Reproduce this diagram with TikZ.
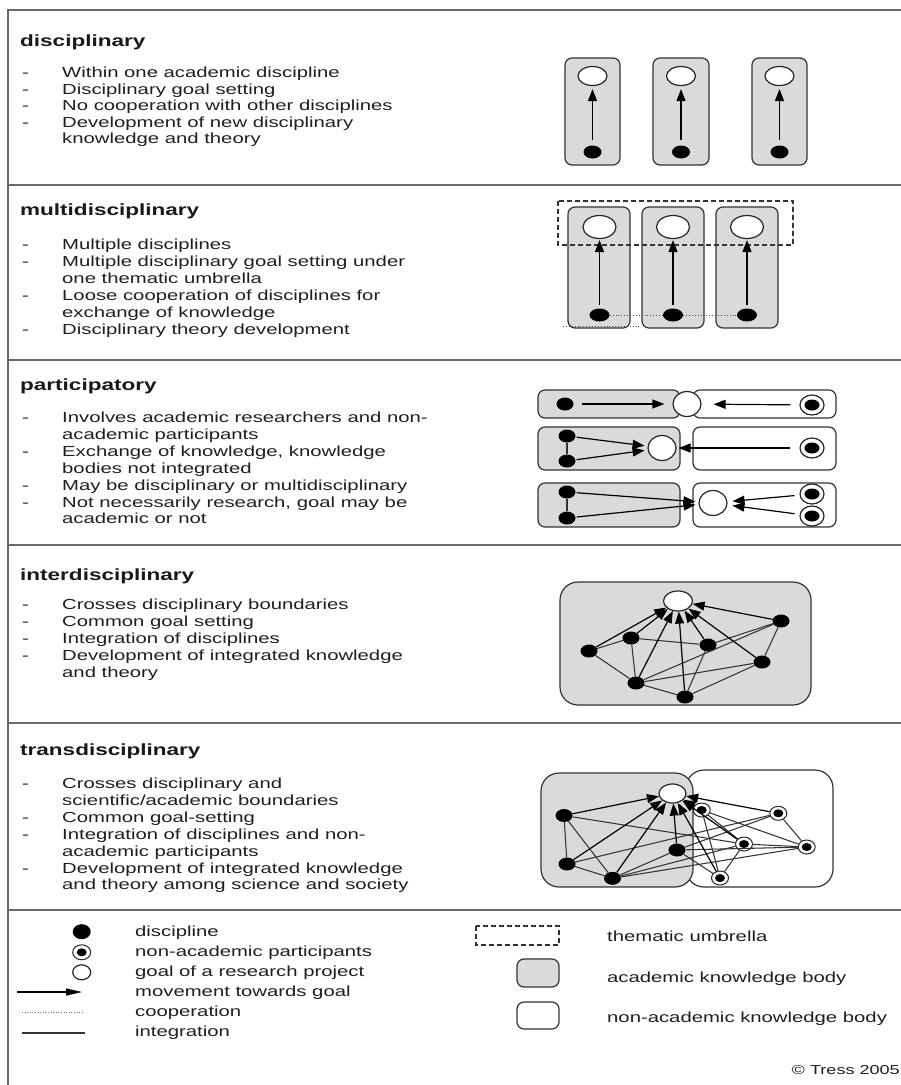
\documentclass[tikz,border=0pt]{standalone}
\usepackage{fontspec}
\setmainfont{Liberation Sans}[FakeStretch=1.39]
\usetikzlibrary{shapes.geometric,arrows.meta}
\definecolor{kgray}{RGB}{218,218,218}
\definecolor{framec}{RGB}{105,105,105}
\begin{document}
\begin{tikzpicture}[x=1pt,y=-1pt,
  body/.style={font=\fontsize{14.6}{16.9}\selectfont, anchor=base west, inner sep=0pt, text=black!88},
  ttl/.style={font=\fontsize{16.2}{18}\selectfont\bfseries, anchor=base west, inner sep=0pt, text=black!90},
  frame/.style={draw=framec, line width=1.5pt},
  acad/.style={draw=black!80, fill=kgray, rounded corners=7pt, line width=1.2pt},
  nonacad/.style={draw=black!80, fill=white, rounded corners=7pt, line width=1.2pt},
  bigacad/.style={draw=black!80, fill=kgray, rounded corners=18pt, line width=1.2pt},
  bignon/.style={draw=black!80, fill=white, rounded corners=18pt, line width=1.2pt},
  umbrella/.style={draw=black!80, dash pattern=on 5pt off 3pt, line width=1.2pt},
  goal/.style={ellipse, draw=black!85, fill=white, line width=1.2pt, inner sep=0pt, minimum width=#1},
  goal/.default=29pt,
  disc/.style={ellipse, fill=black, inner sep=0pt, minimum width=17pt, minimum height=13pt},
  part/.style={ellipse, draw=black!85, fill=white, line width=1.2pt, inner sep=0pt,
    minimum width=24pt, minimum height=20pt,
    path picture={\fill[black] (path picture bounding box.center) ellipse [x radius=7.5pt, y radius=5.5pt];}},
  spart/.style={ellipse, draw=black!85, fill=white, line width=1pt, inner sep=0pt,
    minimum width=17pt, minimum height=14pt,
    path picture={\fill[black] (path picture bounding box.center) ellipse [x radius=5pt, y radius=4pt];}},
  mv/.style={-{Triangle[length=12pt,width=9pt,fill=black]}, line width=1.2pt, draw=black},
  integ/.style={line width=1.05pt, draw=black!80},
  coop/.style={dotted, line width=0.9pt, draw=black!70}
]
\useasboundingbox (0,0) rectangle (901,1085);
\fill[white] (0,0) rectangle (901,1085);

% frame
\draw[frame] (8,1085) -- (8,10) -- (901,10);
\foreach \yy in {185,360,545,723,910} \draw[frame] (8,\yy) -- (901,\yy);

% ---------------- texts ----------------
\node[ttl] (t1) at (20,46) {disciplinary};
\node[body] (r1a) at (22,77.5) {\makebox[40pt][l]{-}Within one academic discipline};
\node[body] (r1b) at (22,94) {\makebox[40pt][l]{-}Disciplinary goal setting};
\node[body] (r1c) at (22,110.5) {\makebox[40pt][l]{-}No cooperation with other disciplines};
\node[body] (r1d) at (22,127) {\makebox[40pt][l]{-}Development of new disciplinary};
\node[body] (r1e) at (62,143.5) {knowledge and theory};

\node[ttl] (t2) at (20,215) {multidisciplinary};
\node[body] (r2a) at (22,249.5) {\makebox[40pt][l]{-}Multiple disciplines};
\node[body] (r2b) at (22,266.4) {\makebox[40pt][l]{-}Multiple disciplinary goal setting under};
\node[body] (r2c) at (62,283.3) {one thematic umbrella};
\node[body] (r2d) at (22,300.2) {\makebox[40pt][l]{-}Loose cooperation of disciplines for};
\node[body] (r2e) at (62,317.1) {exchange of knowledge};
\node[body] (r2f) at (22,334) {\makebox[40pt][l]{-}Disciplinary theory development};

\node[ttl] (t3) at (20,390) {participatory};
\node[body] (r3a) at (22,422.5) {\makebox[40pt][l]{-}Involves academic researchers and non-};
\node[body] (r3b) at (62,439.4) {academic participants};
\node[body] (r3c) at (22,456.3) {\makebox[40pt][l]{-}Exchange of knowledge, knowledge};
\node[body] (r3d) at (62,473.2) {bodies not integrated};
\node[body] (r3e) at (22,490.1) {\makebox[40pt][l]{-}May be disciplinary or multidisciplinary};
\node[body] (r3f) at (22,507) {\makebox[40pt][l]{-}Not necessarily research, goal may be};
\node[body] (r3g) at (62,523.9) {academic or not};

\node[ttl] (t4) at (20,580) {interdisciplinary};
\node[body] (r4a) at (22,609.5) {\makebox[40pt][l]{-}Crosses disciplinary boundaries};
\node[body] (r4b) at (22,626.4) {\makebox[40pt][l]{-}Common goal setting};
\node[body] (r4c) at (22,643.3) {\makebox[40pt][l]{-}Integration of disciplines};
\node[body] (r4d) at (22,660.2) {\makebox[40pt][l]{-}Development of integrated knowledge};
\node[body] (r4e) at (62,677.1) {and theory};

\node[ttl] (t5) at (20,755) {transdisciplinary};
\node[body] (r5a) at (22,788.5) {\makebox[40pt][l]{-}Crosses disciplinary and};
\node[body] (r5b) at (62,805.4) {scientific/academic boundaries};
\node[body] (r5c) at (22,822.3) {\makebox[40pt][l]{-}Common goal-setting};
\node[body] (r5d) at (22,839.2) {\makebox[40pt][l]{-}Integration of disciplines and non-};
\node[body] (r5e) at (62,856.1) {academic participants};
\node[body] (r5f) at (22,873) {\makebox[40pt][l]{-}Development of integrated knowledge};
\node[body] (r5g) at (62,889.9) {and theory among science and society};

% ---------------- disciplinary ----------------
\foreach \cx/\l/\r [count=\i] in {592.5/565/620, 681/653/709, 779.5/752/807} {
  \draw[acad] (\l,58) rectangle (\r,165);
  \node[goal, minimum height=19pt] (dg\i) at (\cx,76) {};
  \node[disc, minimum width=18pt] (dd\i) at (\cx,152) {};
  \draw[mv, shorten <=5pt, shorten >=3pt] (dd\i) -- (dg\i);
}

% ---------------- multidisciplinary ----------------
\foreach \cx/\l/\r [count=\i] in {599.5/568/630, 673/642/704, 747/716/778} {
  \draw[acad] (\l,207) rectangle (\r,328);
}
\draw[umbrella] (558,201) rectangle (793,245);
\foreach \cx [count=\i] in {599.5,673,747} {
  \node[goal=33pt, minimum height=23pt] (mg\i) at (\cx,227) {};
  \node[disc, minimum width=20pt] (md\i) at (\cx,315) {};
  \draw[mv, shorten <=3pt, shorten >=1pt] (md\i) -- (mg\i);
}
\draw[coop] (md1) -- (md2);
\draw[coop] (md2) -- (md3);
\coordinate (mc1) at (563,326);
\coordinate (mc2) at (640,326);
\draw[coop] (mc1) -- (mc2);

% ---------------- participatory ----------------
% row 1
\draw[acad] (538,390) rectangle (680,418);
\draw[nonacad] (693,390) rectangle (836,418);
\node[goal=28pt, minimum height=25pt] (pg1) at (687,404) {};
\node[disc] (pd1) at (565,404) {};
\node[part] (pp1) at (812,405) {};
\draw[mv, shorten <=8pt, shorten >=8pt] (pd1) -- (pg1);
\draw[mv, shorten <=9pt, shorten >=12pt] (pp1) -- (pg1);
% row 2
\draw[acad] (538,427) rectangle (680,470);
\draw[nonacad] (693,427) rectangle (836,470);
\node[goal=28pt, minimum height=25pt] (pg2) at (662,448) {};
\node[disc] (pd2a) at (567,436) {};
\node[disc] (pd2b) at (567,461) {};
\node[part] (pp2) at (812,448) {};
\draw[integ] (pd2a) -- (pd2b);
\draw[mv, shorten <=1pt, shorten >=3pt] (pd2a) -- (pg2);
\draw[mv, shorten <=1pt, shorten >=3pt] (pd2b) -- (pg2);
\draw[mv, shorten <=9pt, shorten >=2pt] (pp2) -- (pg2);
% row 3
\draw[acad] (538,483) rectangle (680,527);
\draw[nonacad] (693,483) rectangle (836,527);
\node[goal=28pt, minimum height=25pt] (pg3) at (713,503) {};
\node[disc] (pd3a) at (567,492) {};
\node[disc] (pd3b) at (567,518) {};
\node[part] (pp3a) at (812,494) {};
\node[part] (pp3b) at (812,516) {};
\draw[integ] (pd3a) -- (pd3b);
\draw[mv, shorten <=1pt, shorten >=3pt] (pd3a) -- (pg3);
\draw[mv, shorten <=1pt, shorten >=3pt] (pd3b) -- (pg3);
\draw[mv, shorten <=5pt, shorten >=5pt] (pp3a) -- (pg3);
\draw[mv, shorten <=5pt, shorten >=5pt] (pp3b) -- (pg3);

% ---------------- interdisciplinary ----------------
\draw[bigacad] (560,582) rectangle (811,705);
\node[goal=29pt, minimum height=20pt] (ig) at (678,601) {};
\foreach \n/\p in {i1/{589,651}, i2/{631,638}, i3/{708,645}, i4/{781,621}, i5/{762,662}, i6/{636,683}, i7/{685,697}}
  \node[disc] (\n) at (\p) {};
\foreach \a/\b in {i1/i2, i1/i6, i2/i3, i2/i6, i3/i4, i6/i4, i6/i5, i7/i3, i7/i5, i5/i4, i6/i7}
  \draw[integ] (\a) -- (\b);
\foreach \a in {i1,i2,i3,i4,i5,i6,i7}
  \draw[mv] (\a) -- (ig);

% ---------------- transdisciplinary ----------------
\draw[bignon] (686,770) rectangle (833,887);
\draw[bigacad] (541,773) rectangle (693,887);
\node[goal=27pt, minimum height=19pt] (tg) at (672.5,793.5) {};
\foreach \n/\p in {a1/{564,815.5}, a2/{567,864}, a3/{612.5,878.3}, a4/{677,850}}
  \node[disc] (\n) at (\p) {};
\foreach \n/\p in {q1/{701.7,810}, q2/{778.3,813.3}, q3/{744,844}, q4/{806.7,847}, q5/{720,878}}
  \node[spart] (\n) at (\p) {};
\foreach \a/\b in {a1/a2, a1/a3, a1/q3, a2/a3, a2/q2, a3/a4, a3/q3, a3/q4, a4/q4, a4/q2, q1/q3, q1/q4, q1/q5, q2/q4, q3/q4, q3/q5, a4/q5}
  \draw[integ] (\a) -- (\b);
\foreach \a in {a1,a2,a3,a4,q5,q3,q1,q2}
  \draw[mv] (\a) -- (tg);

% ---------------- legend ----------------
\node[disc, minimum width=18pt, minimum height=15pt] (ld) at (81.7,931.7) {};
\node[spart, minimum width=18pt, minimum height=15pt] (lp) at (81.7,952.3) {};
\node[goal=18pt, minimum height=15pt] (lg) at (81.7,972.3) {};
\coordinate (la1) at (17,992);
\coordinate (la2) at (82,992);
\draw[mv, -{Triangle[length=16pt,width=7pt,fill=black]}] (la1) -- (la2);
\coordinate (lc1) at (22,1012);
\coordinate (lc2) at (82,1012);
\draw[dotted, line width=0.6pt, draw=black!55] (lc1) -- (lc2);
\coordinate (li1) at (22,1033);
\coordinate (li2) at (85,1033);
\draw[integ] (li1) -- (li2);
\node[body] (lt1) at (135,936.5) {discipline};
\node[body] (lt2) at (135,956.5) {non-academic participants};
\node[body] (lt3) at (135,976.5) {goal of a research project};
\node[body] (lt4) at (135,996.5) {movement towards goal};
\node[body] (lt5) at (135,1016.5) {cooperation};
\node[body] (lt6) at (135,1036.5) {integration};

\draw[umbrella] (476,926) rectangle (559,945);
\draw[acad] (517,959) rectangle (559,987);
\draw[nonacad] (517,1002) rectangle (559,1029);
\node[body] (lt7) at (607,941.5) {thematic umbrella};
\node[body] (lt8) at (607,982.5) {academic knowledge body};
\node[body] (lt9) at (607,1022.5) {non-academic knowledge body};
\node[body, anchor=base east, font=\fontsize{13}{15}\selectfont] (cp) at (900,1074) {© Tress 2005};
\end{tikzpicture}
\end{document}
